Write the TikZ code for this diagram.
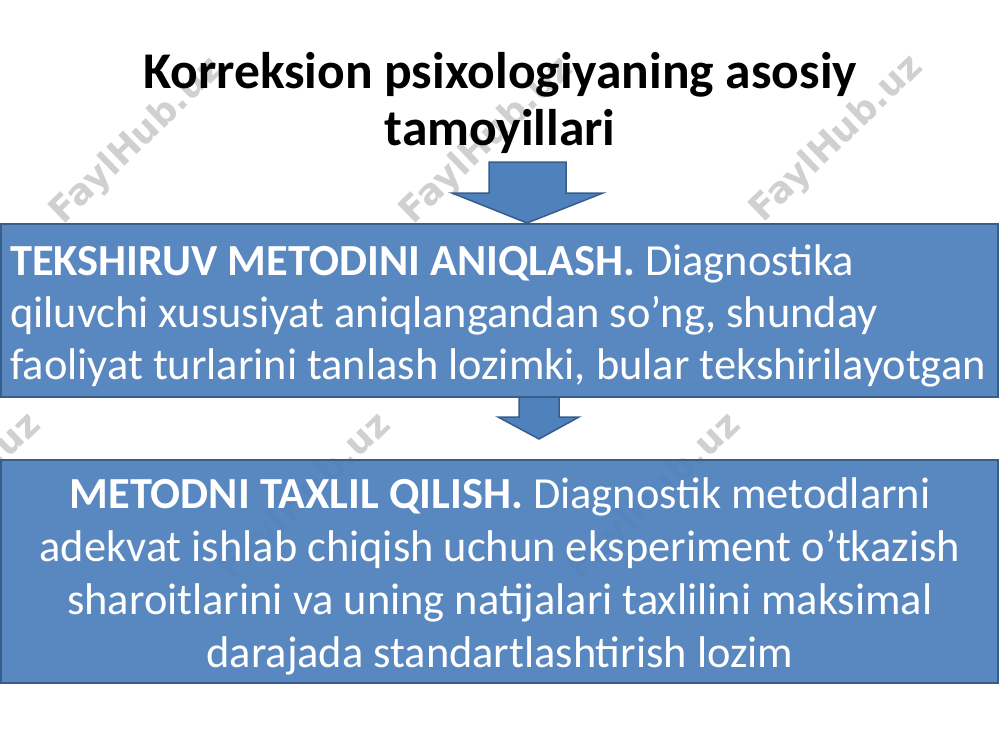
\documentclass[tikz,border=0pt]{standalone}
\usepackage{fontspec}
\setmainfont{Carlito}
\newfontfamily\wmfont{DejaVu Sans}
\definecolor{boxblue}{RGB}{79,129,189}
\definecolor{boxedge}{RGB}{56,93,138}
\definecolor{wmgray}{RGB}{208,208,208}
\begin{document}
\begin{tikzpicture}[x=1pt,y=-1pt,
  wm/.style={font=\wmfont\bfseries\fontsize{36}{36}\selectfont, text=wmgray, rotate=44, inner sep=0},
  blockbox/.style={fill=boxblue, fill opacity=0.94, draw=boxedge, draw opacity=1, line width=2.5pt},
  blockarrow/.style={fill=boxblue, draw=boxedge, line width=1.5pt, line join=miter},
  titletext/.style={font=\bfseries\fontsize{51.5}{60}\selectfont, anchor=base, inner sep=0},
  boxline/.style={font=\fontsize{44.4}{52}\selectfont, text=white, inner sep=0},
]
\useasboundingbox (0,0) rectangle (1000,750);
\fill[white] (0,0) rectangle (1000,750);
% watermarks
\node[wm] (w1) at (137,141) {FaylHub.uz};
\node[wm] (w2) at (487,141) {FaylHub.uz};
\node[wm] (w3) at (837,139) {FaylHub.uz};
\node[wm] (w4) at (-45,497) {FaylHub.uz};
\node[wm] (w5) at (305,497) {FaylHub.uz};
\node[wm] (w6) at (655,497) {FaylHub.uz};
% title
\node[titletext] (t1) at (500,88) {Korreksion psixologiyaning asosiy};
\node[titletext] (t2) at (500,145) {tamoyillari};
% boxes
\coordinate (b1nw) at (1,224);
\coordinate (b1se) at (998,397);
\coordinate (b2nw) at (1,460);
\coordinate (b2se) at (998,683);
\draw[blockbox] (b1nw) rectangle (b1se);
\draw[blockbox] (b2nw) rectangle (b2se);
% arrows
\draw[blockarrow] (489,162) -- (566,162) -- (566,193) -- (603,193) -- (527,223) -- (452,193) -- (489,193) -- cycle;
\draw[blockarrow] (519,397) -- (559,397) -- (559,417) -- (579,417) -- (539,439) -- (498,417) -- (519,417) -- cycle;
% box 1 text
\node[boxline, anchor=base west] (l11) at (10,275) {\textbf{TEKSHIRUV METODINI ANIQLASH.} Diagnostika};
\node[boxline, anchor=base west] (l12) at (10,327) {qiluvchi xususiyat aniqlangandan so’ng, shunday};
\node[boxline, anchor=base west] (l13) at (10,379) {faoliyat turlarini tanlash lozimki, bular tekshirilayotgan};
% box 2 text
\node[boxline, anchor=base] (l21) at (500,508) {\textbf{METODNI TAXLIL QILISH.} Diagnostik metodlarni};
\node[boxline, anchor=base] (l22) at (500,561) {adekvat ishlab chiqish uchun eksperiment o’tkazish};
\node[boxline, anchor=base] (l23) at (500,614) {sharoitlarini va uning natijalari taxlilini maksimal};
\node[boxline, anchor=base] (l24) at (500,667) {darajada standartlashtirish lozim};
\end{tikzpicture}
\end{document}
